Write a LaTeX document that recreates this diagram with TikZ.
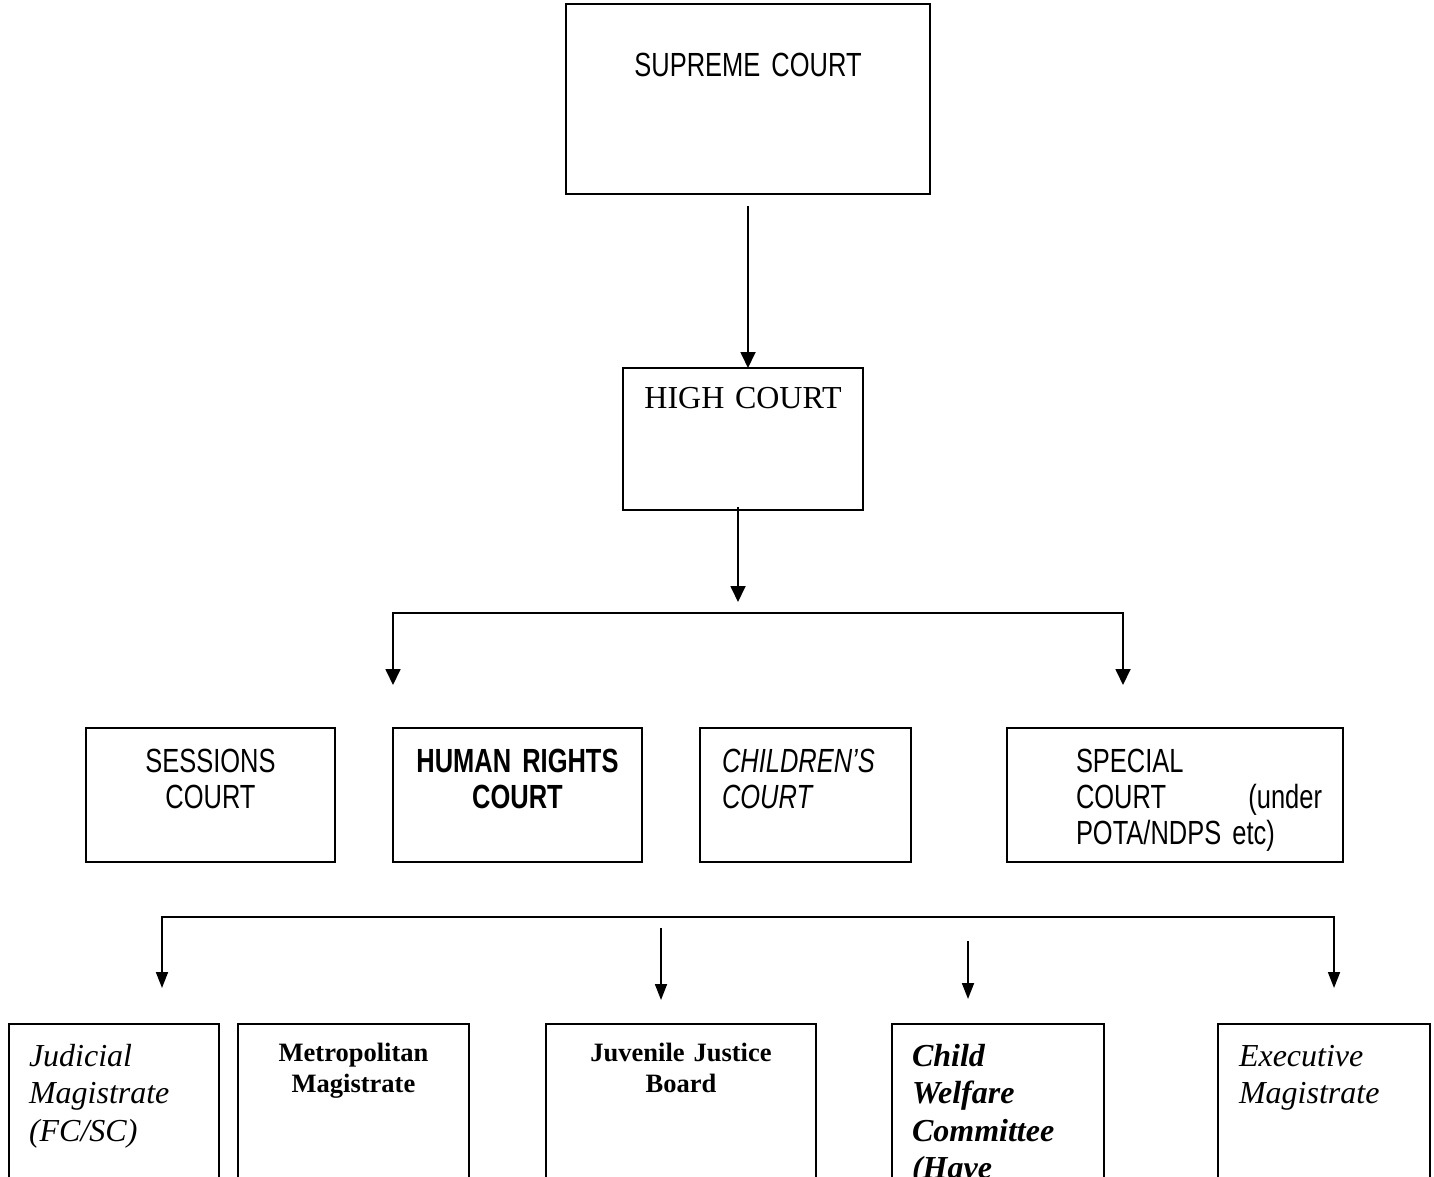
\documentclass[tikz,border=0pt]{standalone}
\usepackage{fontspec}
\setmainfont{Liberation Serif}
\newfontfamily\narrowsans[FakeStretch=0.76,WordSpace=0.76]{Liberation Sans}
\usetikzlibrary{calc,arrows.meta}

\newcommand{\sanssize}{\narrowsans\fontsize{33.5}{36}\selectfont}
\newcommand{\bigsize}{\fontsize{32}{37.5}\selectfont}
\newcommand{\smallsize}{\fontsize{26.5}{31}\selectfont}

\tikzset{
	courtbox/.style={draw, line width=2pt, inner sep=0pt, outer sep=0pt, anchor=north west},
	row2/.style={courtbox, text height=44pt, text depth=90pt},
	row3/.style={courtbox, text height=42pt, text depth=174pt},
	row3small/.style={courtbox, text height=37pt, text depth=179pt},
	flow/.style={line width=1.8pt, -{Triangle[length=16pt,width=15pt]}},
	flowwide/.style={line width=1.8pt, {Triangle[length=16pt,width=15pt]}-{Triangle[length=16pt,width=15pt]}},
	flowboth/.style={line width=1.8pt, {Triangle[length=16pt,width=12pt]}-{Triangle[length=16pt,width=12pt]}},
	flowthin/.style={line width=1.8pt, -{Triangle[length=16pt,width=12pt]}}
}

\begin{document}
\begin{tikzpicture}[x=1pt,y=-1pt]
					\useasboundingbox (0,0) rectangle (1434,1177);
					\clip (0,0) rectangle (1434,1177);
					
					\node[courtbox, font=\sanssize, text width=364pt, align=center, text height=73pt, text depth=117pt] (supreme) at (566,4) {SUPREME COURT};
					\node[courtbox, font=\bigsize, text width=240pt, align=center, text height=40pt, text depth=102pt] (high) at (623,368) {HIGH COURT};
					
					\node[row2, font=\sanssize, text width=249pt, align=center] (sessions) at (86,728) {SESSIONS\\COURT};
					\node[row2, font={\sanssize\bfseries}, text width=249pt, align=center] (rights) at (393,728) {HUMAN RIGHTS\\COURT};
					\node[row2, font={\sanssize\itshape}, text width=167pt, inner xsep=22pt, align=left] (children) at (700,728) {CHILDREN’S\\COURT};
					\node[row2, font=\sanssize, text width=294pt, inner xsep=21pt, align=left] (special) at (1007,728) {\hspace*{48pt}SPECIAL\\\hspace*{48pt}COURT\hfill(under\\\hspace*{48pt}POTA/NDPS etc)};
					
					\node[row3, font={\bigsize\itshape}, text width=170pt, inner xsep=20pt, align=left] (judicial) at (9,1024) {Judicial\\Magistrate\\(FC/SC)};
					\node[row3small, font={\smallsize\bfseries}, text width=231pt, align=center] (metro) at (238,1024) {Metropolitan\\Magistrate};
					\node[row3small, font={\smallsize\bfseries}, text width=270pt, align=center] (juvenile) at (546,1024) {Juvenile Justice\\Board};
					\node[row3, font={\bigsize\bfseries\itshape}, text width=172pt, inner xsep=20pt, align=left] (welfare) at (892,1024) {Child\\Welfare\\Committee\\(Have};
					\node[row3, font={\bigsize\itshape}, text width=170pt, inner xsep=21pt, align=left] (executive) at (1218,1024) {Executive\\Magistrate};
					
					\coordinate (sup out) at (748,206);
					\coordinate (high out) at (738,507);
					\coordinate (high in) at (738,602);
					\coordinate (bar one) at (0,613);
					\coordinate (left one) at (393,685);
					\coordinate (right one) at (1123,685);
					\coordinate (bar two) at (0,917);
					\coordinate (left two) at (162,988);
					\coordinate (right two) at (1334,988);
					\coordinate (jjb top) at (661,928);
					\coordinate (jjb in) at (661,1000);
					\coordinate (cwc top) at (968,941);
					\coordinate (cwc in) at (968,999);
					
					\draw[flow] (sup out) -- (sup out |- high.north);
					\draw[flow] (high out) -- (high in);
					\draw[flowwide] (left one) -- (left one |- bar one) -- (right one |- bar one) -- (right one);
					\draw[flowboth] (left two) -- (left two |- bar two) -- (right two |- bar two) -- (right two);
					\draw[flowthin] (jjb top) -- (jjb in);
					\draw[flowthin] (cwc top) -- (cwc in);
\end{tikzpicture}
\end{document}
